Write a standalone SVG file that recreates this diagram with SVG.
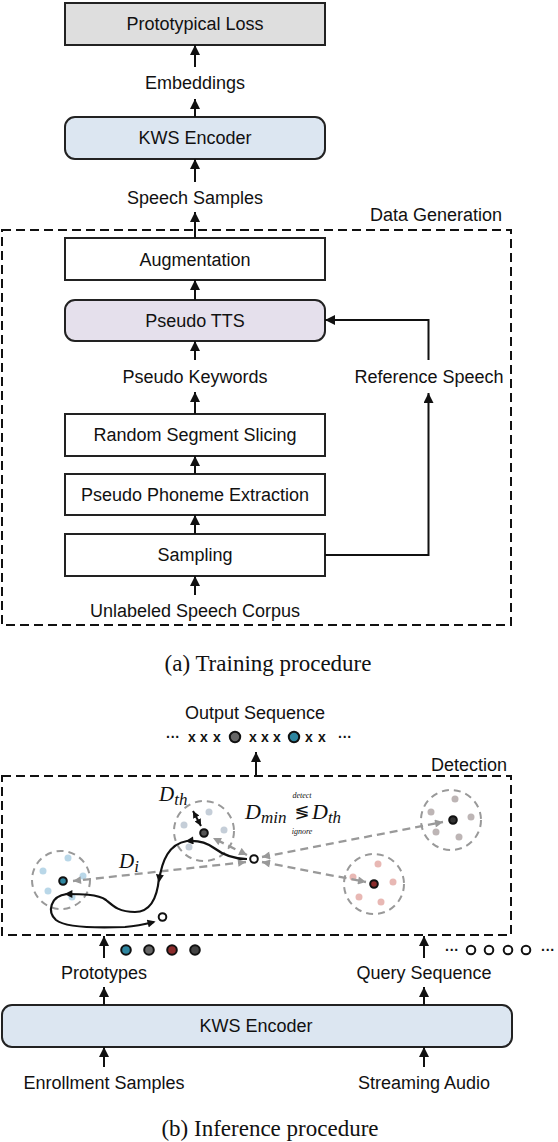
<svg xmlns="http://www.w3.org/2000/svg" width="558" height="1142" viewBox="0 0 558 1142">
<defs>
<style>
.t{font-family:"Liberation Sans",Arial,sans-serif;font-size:18px;text-anchor:middle;fill:#111}
.cap{font-family:"Liberation Serif","Times New Roman",serif;font-size:23px;text-anchor:middle;fill:#111}
.m{font-family:"Liberation Serif","Times New Roman",serif;font-style:italic;fill:#111}
.box{stroke:#222;stroke-width:2}
.ar{stroke:#111;stroke-width:2;fill:none;marker-end:url(#ah)}
.dash{fill:none;stroke:#111;stroke-width:2;stroke-dasharray:9 5}
.cl{fill:none;stroke:#999;stroke-width:2;stroke-dasharray:7 5}
.ga{fill:none;stroke:#999;stroke-width:2.3;stroke-dasharray:8 5;marker-start:url(#gs);marker-end:url(#ge)}
.cv{fill:none;stroke:#111;stroke-width:2.2;marker-end:url(#ch)}
.cd{stroke:#111;stroke-width:2}
.x{font-family:"Liberation Sans",Arial,sans-serif;font-size:14px;font-weight:bold;text-anchor:middle;fill:#111}
</style>
<marker id="ah" viewBox="0 0 10 10" refX="10" refY="5" markerWidth="12" markerHeight="10" markerUnits="userSpaceOnUse" orient="auto"><path d="M0,0 L10,5 L0,10 z" fill="#111"/></marker>
<marker id="ch" viewBox="0 0 10 10" refX="8" refY="5" markerWidth="10" markerHeight="8" markerUnits="userSpaceOnUse" orient="auto"><path d="M0,0 L10,5 L0,10 z" fill="#111"/></marker>
<marker id="ds" viewBox="0 0 10 10" refX="10" refY="5" markerWidth="7" markerHeight="7" markerUnits="userSpaceOnUse" orient="auto-start-reverse"><path d="M0,0 L10,5 L0,10 z" fill="#111"/></marker>
<marker id="ge" viewBox="0 0 10 10" refX="10" refY="5" markerWidth="9" markerHeight="8" markerUnits="userSpaceOnUse" orient="auto"><path d="M0,0 L10,5 L0,10 z" fill="#999"/></marker>
<marker id="gs" viewBox="0 0 10 10" refX="10" refY="5" markerWidth="9" markerHeight="8" markerUnits="userSpaceOnUse" orient="auto-start-reverse"><path d="M0,0 L10,5 L0,10 z" fill="#999"/></marker>
</defs>
<rect width="558" height="1142" fill="#fff"/>

<!-- (a) Training procedure -->
<g id="data-generation">
<rect class="dash" x="2" y="230" width="509" height="395"/>
<text class="t" x="436" y="221">Data Generation</text>
</g>
<g id="prototypical-loss"><rect class="box" x="65" y="3" width="260" height="42" fill="#dedede"/><text class="t" x="195" y="30">Prototypical Loss</text></g>
<g id="embeddings"><text class="t" x="195" y="89">Embeddings</text></g>
<g id="kws-encoder-a"><rect class="box" x="65" y="117" width="260" height="42" rx="10" fill="#dce6f1"/><text class="t" x="195" y="144">KWS Encoder</text></g>
<g id="speech-samples"><text class="t" x="195" y="204">Speech Samples</text></g>
<g id="augmentation"><rect class="box" x="65" y="238" width="260" height="42" fill="#fff"/><text class="t" x="195" y="266">Augmentation</text></g>
<g id="pseudo-tts"><rect class="box" x="65" y="300" width="260" height="41" rx="10" fill="#e5e0ec"/><text class="t" x="195" y="327">Pseudo TTS</text></g>
<g id="pseudo-keywords"><text class="t" x="195" y="383">Pseudo Keywords</text></g>
<g id="reference-speech"><text class="t" x="429" y="383">Reference Speech</text></g>
<g id="random-segment-slicing"><rect class="box" x="65" y="414" width="260" height="42" fill="#fff"/><text class="t" x="195" y="441">Random Segment Slicing</text></g>
<g id="pseudo-phoneme-extraction"><rect class="box" x="65" y="474" width="260" height="41" fill="#fff"/><text class="t" x="195" y="501">Pseudo Phoneme Extraction</text></g>
<g id="sampling"><rect class="box" x="65" y="534" width="260" height="42" fill="#fff"/><text class="t" x="195" y="561">Sampling</text></g>
<g id="unlabeled-speech-corpus"><text class="t" x="195" y="617">Unlabeled Speech Corpus</text></g>
<text class="cap" x="268" y="671">(a) Training procedure</text>

<!-- (b) Inference procedure -->
<g id="output-sequence">
<text class="t" x="255" y="719">Output Sequence</text>
<text class="x" x="173" y="742">···</text>
<text class="x" x="192" y="742">x</text><text class="x" x="204" y="742">x</text><text class="x" x="217" y="742">x</text>
<circle cx="235" cy="737" r="5.2" fill="#666" class="cd"/>
<text class="x" x="253" y="742">x</text><text class="x" x="265" y="742">x</text><text class="x" x="277" y="742">x</text>
<circle cx="294" cy="737" r="5.2" fill="#2e86a0" class="cd"/>
<text class="x" x="309" y="742">x</text><text class="x" x="322" y="742">x</text>
<text class="x" x="345" y="742">···</text>
</g>
<g id="detection">
<rect class="dash" x="2" y="776" width="509" height="159"/>
<text class="t" x="469" y="771">Detection</text>
</g>
<g id="cluster-teal">
<circle class="cl" cx="61" cy="880" r="29"/>
<g fill="#b9d7e8"><circle cx="68" cy="858" r="3.5"/><circle cx="43" cy="871" r="3.5"/><circle cx="83" cy="876" r="3.5"/><circle cx="48" cy="891" r="3.5"/><circle cx="72" cy="897" r="3.5"/></g>
<circle cx="63" cy="881" r="3.8" fill="#2e86a0" class="cd"/>
</g>
<g id="cluster-gray">
<circle class="cl" cx="204" cy="831" r="30"/>
<g fill="#c5ced8"><circle cx="209" cy="812" r="3.5"/><circle cx="184" cy="825" r="3.5"/><circle cx="224" cy="830" r="3.5"/><circle cx="189" cy="847" r="3.5"/></g>
<circle cx="204" cy="833" r="3.8" fill="#555" class="cd"/>
</g>
<g id="cluster-dark">
<circle class="cl" cx="451" cy="820" r="30"/>
<g fill="#bdb5b5"><circle cx="455" cy="799" r="3.5"/><circle cx="431" cy="812" r="3.5"/><circle cx="471" cy="817" r="3.5"/><circle cx="436" cy="832" r="3.5"/><circle cx="459" cy="837" r="3.5"/></g>
<circle cx="453" cy="820" r="3.8" fill="#333" class="cd"/>
</g>
<g id="cluster-red">
<circle class="cl" cx="374" cy="884" r="30"/>
<g fill="#e8b8b4"><circle cx="378" cy="864" r="3.5"/><circle cx="353" cy="877" r="3.5"/><circle cx="393" cy="882" r="3.5"/><circle cx="359" cy="897" r="3.5"/><circle cx="381" cy="902" r="3.5"/></g>
<circle cx="374" cy="884" r="3.8" fill="#8b2b2b" class="cd"/>
</g>
<g id="query-points">
<circle cx="254" cy="859" r="3.8" fill="#fff" class="cd"/>
<circle cx="162.5" cy="917" r="3.8" fill="#fff" class="cd"/>
</g>
<g id="labels-math">
<text class="m" x="159" y="801" font-size="21">D<tspan font-size="17" dy="4">th</tspan></text>
<text class="m" x="119" y="868" font-size="21">D<tspan font-size="17" dy="4">i</tspan></text>
<text class="m" x="245" y="819" font-size="22">D<tspan font-size="17" dy="4">min</tspan></text>
<text x="302" y="818" font-family="DejaVu Sans,sans-serif" font-size="18" text-anchor="middle" fill="#111">≶</text>
<text class="m" x="302" y="798" font-size="8" text-anchor="middle">detect</text>
<text class="m" x="302" y="834" font-size="8" text-anchor="middle">ignore</text>
<text class="m" x="312" y="819" font-size="22">D<tspan font-size="17" dy="4">th</tspan></text>
</g>
<g id="prototypes">
<text class="t" x="104" y="979">Prototypes</text>
<circle cx="126" cy="950" r="4.8" fill="#2e86a0" class="cd"/>
<circle cx="149" cy="950" r="4.8" fill="#666" class="cd"/>
<circle cx="172" cy="950" r="4.8" fill="#8b2b2b" class="cd"/>
<circle cx="195" cy="950" r="4.8" fill="#444" class="cd"/>
</g>
<g id="query-sequence">
<text class="t" x="424" y="979">Query Sequence</text>
<text class="x" x="452" y="955">···</text>
<circle cx="471" cy="950" r="4.3" fill="#fff" class="cd"/>
<circle cx="489" cy="950" r="4.3" fill="#fff" class="cd"/>
<circle cx="508" cy="950" r="4.3" fill="#fff" class="cd"/>
<circle cx="526" cy="950" r="4.3" fill="#fff" class="cd"/>
<text class="x" x="548" y="955">···</text>
</g>
<g id="kws-encoder-b"><rect class="box" x="2" y="1005" width="510" height="42" rx="10" fill="#dce6f1"/><text class="t" x="256" y="1032">KWS Encoder</text></g>
<g id="enrollment-samples"><text class="t" x="104" y="1089">Enrollment Samples</text></g>
<g id="streaming-audio"><text class="t" x="424" y="1089">Streaming Audio</text></g>
<text class="cap" x="270" y="1136">(b) Inference procedure</text>

<g id="connectors">
<line class="ar" x1="195" y1="67" x2="195" y2="45"/>
<line class="ar" x1="195" y1="117" x2="195" y2="99"/>
<line class="ar" x1="195" y1="182" x2="195" y2="159"/>
<line class="ar" x1="195" y1="238" x2="195" y2="212"/>
<line class="ar" x1="195" y1="300" x2="195" y2="280"/>
<line class="ar" x1="195" y1="360" x2="195" y2="341"/>
<line class="ar" x1="195" y1="414" x2="195" y2="392"/>
<line class="ar" x1="195" y1="474" x2="195" y2="456"/>
<line class="ar" x1="195" y1="534" x2="195" y2="515"/>
<line class="ar" x1="195" y1="595" x2="195" y2="576"/>
<polyline class="ar" points="325,555 428.5,555 428.5,393"/>
<polyline class="ar" points="428.5,360 428.5,320 325,320"/>
<line class="ar" x1="256" y1="776" x2="256" y2="752"/>
<line class="ar" x1="104" y1="958" x2="104" y2="936"/>
<line class="ar" x1="424" y1="958" x2="424" y2="936"/>
<line class="ar" x1="104" y1="1005" x2="104" y2="987"/>
<line class="ar" x1="424" y1="1005" x2="424" y2="987"/>
<line class="ar" x1="104" y1="1067" x2="104" y2="1047"/>
<line class="ar" x1="424" y1="1067" x2="424" y2="1047"/>
<line x1="193" y1="811" x2="201" y2="826" stroke="#111" stroke-width="2" marker-start="url(#ds)" marker-end="url(#ds)"/>
<line class="ga" x1="246" y1="862" x2="73" y2="881"/>
<line class="ga" x1="247" y1="855" x2="213" y2="838"/>
<line class="ga" x1="262" y1="857" x2="443" y2="822"/>
<line class="ga" x1="262" y1="862" x2="366" y2="882"/>
<path class="cv" d="M247,859 C232,859 222,854 214,848 C206,842 198,840 187,841"/>
<path class="cv" d="M187,841 C169,844 162,860 159,881"/>
<path class="cv" d="M159,878 C157,900 150,912 135,912 C118,912 112,905 106,900 C98,894 80,894 66,894"/>
<path class="cv" d="M67,894 C50,896 47,912 56,920 C66,928 100,928 125,927 C138,926 146,924 154,922"/>
</g>
</svg>
